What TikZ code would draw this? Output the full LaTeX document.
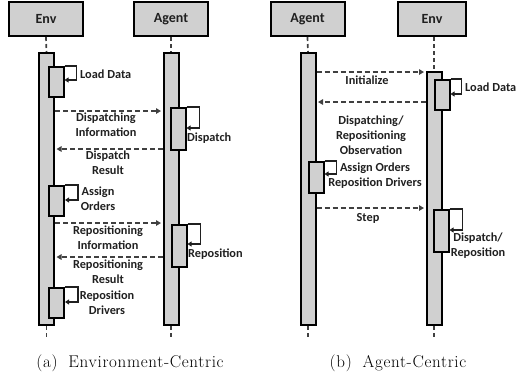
\documentclass[tikz,border=0pt]{standalone}
\usepackage{fontspec}
\newfontfamily\lblfamily{Carlito}
\newfontfamily\capfamily{Latin Modern Roman}[LetterSpace=4]
\usetikzlibrary{arrows.meta}
\definecolor{boxgray}{HTML}{D0D0D0}
\definecolor{linegray}{HTML}{404040}
\definecolor{inkgray}{HTML}{202020}

\tikzset{
  header/.style={draw=black, line width=2pt, fill=boxgray, minimum width=74pt,
    minimum height=34pt, inner sep=0pt, text=inkgray,
    font=\lblfamily\bfseries\fontsize{14}{16}\selectfont},
  lifebar/.style={draw=black, line width=2pt, fill=boxgray, minimum width=15pt,
    inner sep=0pt, anchor=north},
  actbox/.style={lifebar, minimum width=15pt},
  lifeline/.style={draw=linegray, line width=1.7pt, dash pattern=on 4pt off 3pt},
  msg/.style={draw=linegray, line width=1.7pt, dash pattern=on 5pt off 3pt,
    -{Triangle[length=5pt,width=5.5pt]}, shorten >=1.5pt},
  selfcall/.style={draw=inkgray, line width=1.7pt, -{Triangle[length=4pt,width=5pt]}},
  lbl/.style={inner sep=0pt, align=center, text=inkgray,
    font=\lblfamily\bfseries\fontsize{12.3}{15}\selectfont},
  caption/.style={inner sep=0pt, font=\capfamily\fontsize{17}{20}\selectfont}
}

\begin{document}
\begin{tikzpicture}[x=1pt, y=-1pt]
\useasboundingbox (0,0) rectangle (517,376);

% ---------------- (a) environment-centric ----------------
\node[header] (envA) at (46,19) {Env};
\node[header] (agtA) at (171,19) {Agent};
\node[lifebar, minimum height=272pt] (envbarA) at (46.5,52) {};
\node[lifebar, minimum height=272pt] (agtbarA) at (171,52) {};
\coordinate (envendA) at (46.5,338);
\coordinate (agtendA) at (171,338);
\draw[lifeline] (envA.south) -- (envbarA.north);
\draw[lifeline] (agtA.south) -- (agtbarA.north);
\draw[lifeline] (envbarA.south) -- (envendA);
\draw[lifeline] (agtbarA.south) -- (agtendA);

% activations
\node[actbox, minimum height=30pt] (ldA) at (56,66) {};
\node[actbox, minimum height=42pt] (dpA) at (178,107) {};
\node[actbox, minimum height=30pt] (aoA) at (56.5,185) {};
\node[actbox, minimum height=42pt] (rpA) at (179,224) {};
\node[actbox, minimum height=30pt] (rdA) at (56.5,287) {};

% self calls
\draw[selfcall] (ldA.north east) -- ++(12,0) -- ++(0,14) -- ++(-12,0);
\draw[selfcall] (dpA.north east) -- ++(13,0) -- ++(0,21) -- ++(-13,0);
\draw[selfcall] (aoA.north east) -- ++(13,0) -- ++(0,15) -- ++(-13,0);
\draw[selfcall] (rpA.north east) -- ++(13,0) -- ++(0,20) -- ++(-13,0);
\draw[selfcall] (rdA.north east) -- ++(13,0) -- ++(0,15) -- ++(-13,0);

% messages
\draw[msg] (envbarA.east |- 0,111) -- (agtbarA.west |- 0,111);
\draw[msg] (agtbarA.west |- 0,149) -- (envbarA.east |- 0,149);
\draw[msg] (envbarA.east |- 0,223) -- (agtbarA.west |- 0,223);
\draw[msg] (agtbarA.west |- 0,257) -- (envbarA.east |- 0,257);

% labels
\node[lbl, anchor=west] (tldA) at (80,74) {Load Data};
\node[lbl] (tdiA) at (106,124.5) {Dispatching\\Information};
\node[lbl, anchor=west] (tdpA) at (187,138) {Dispatch};
\node[lbl] (tdrA) at (108,162.5) {Dispatch\\Result};
\node[lbl] (taoA) at (98,198.5) {Assign\\Orders};
\node[lbl] (triA) at (108,237.5) {Repositioning\\Information};
\node[lbl, anchor=west] (trpA) at (188,254) {Reposition};
\node[lbl] (trrA) at (108,272) {Repositioning\\Result};
\node[lbl] (trdA) at (107,302.5) {Reposition\\Drivers};

\node[caption] (capA) at (130,363) {(a)\hspace{5pt} Environment-Centric};

% ---------------- (b) agent-centric ----------------
\node[header] (agtB) at (307.5,19) {Agent};
\node[header, minimum width=68pt] (envB) at (432,19) {Env};
\node[lifebar, minimum height=272pt] (agtbarB) at (308,52) {};
\node[lifebar, minimum height=253pt] (envbarB) at (434,71) {};
\coordinate (agtendB) at (308,338);
\coordinate (envendB) at (434,338);
\draw[lifeline] (agtB.south) -- (agtbarB.north);
\draw[lifeline] (envB.south -| envbarB.north) -- (envbarB.north);
\draw[lifeline] (agtbarB.south) -- (agtendB);
\draw[lifeline] (envbarB.south) -- (envendB);

% activations
\node[actbox, minimum height=30pt] (ldB) at (442,79) {};
\node[actbox, minimum height=31pt] (aoB) at (316,161) {};
\node[actbox, minimum height=42pt] (drB) at (441,209) {};

% self calls
\draw[selfcall] (ldB.north east) -- ++(11,0) -- ++(0,15) -- ++(-11,0);
\draw[selfcall] (aoB.north east) -- ++(12,0) -- ++(0,13) -- ++(-12,0);
\draw[selfcall] (drB.north east) -- ++(13,0) -- ++(0,21) -- ++(-13,0);

% messages
\draw[msg] (agtbarB.east |- 0,72) -- (envbarB.west |- 0,72);
\draw[msg] (envbarB.west |- 0,102) -- (agtbarB.east |- 0,102);
\draw[msg] (agtbarB.east |- 0,208) -- (envbarB.west |- 0,208);

% labels
\node[lbl] (tinB) at (367,80) {Initialize};
\node[lbl, anchor=west] (tldB) at (465,87) {Load Data};
\node[lbl] (tobB) at (371,135.5) {Dispatching/\\Repositioning\\Observation};
\node[lbl] (taoB) at (375,176) {Assign Orders\\Reposition Drivers};
\node[lbl] (tstB) at (368,218) {Step};
\node[lbl] (tdrB) at (478,245.5) {Dispatch/\\Reposition};

\node[caption] (capB) at (398,363) {(b)\hspace{5pt} Agent-Centric};
\end{tikzpicture}
\end{document}
